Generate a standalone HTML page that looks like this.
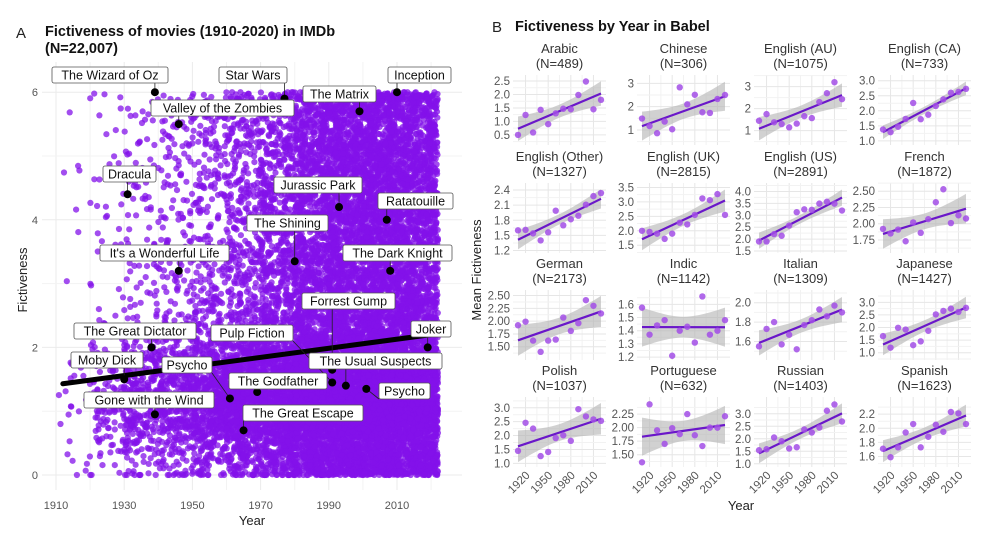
<!DOCTYPE html>
<html><head><meta charset="utf-8">
<style>
html,body{margin:0;padding:0;background:#fff;}
svg{display:block;font-family:"Liberation Sans",Arial,sans-serif;}
</style></head>
<body>
<svg id="fig" width="1000" height="541" viewBox="0 0 1000 541" xmlns="http://www.w3.org/2000/svg">
<rect width="1000" height="541" fill="#fff"/>
<g id="panelA"></g>
<g id="panelB"></g>
</svg>
<script>
// ---------- Panel A data ----------
const decadeStarts = [1910,1920,1930,1940,1950,1960,1970,1980,1990,2000,2010];
const decadeCounts = [30,150,380,520,800,1200,1600,2300,2700,3000,3000];
const uniformShare = [0.45,0.4,0.35,0.4,0.45,0.5,0.6,0.72,0.78,0.78,0.78];
const movieNames = ["The Wizard of Oz","Star Wars","Inception","The Matrix","Valley of the Zombies","Dracula","Jurassic Park","Ratatouille","The Shining","It's a Wonderful Life","The Dark Knight","Forrest Gump","The Great Dictator","Pulp Fiction","Joker","Moby Dick","Psycho","The Usual Suspects","The Godfather","Gone with the Wind","Psycho","The Great Escape"];
const movieYears = [1939,1977,2010,1999,1946,1931,1993,2007,1980,1946,2008,1991,1938,1991,2019,1930,1961,1995,1969,1939,2001,1965];
const movieFict = [6.0,5.9,6.0,5.7,5.5,4.4,4.2,4.0,3.35,3.2,3.2,1.65,2.0,1.45,2.0,1.5,1.2,1.4,1.3,0.95,1.35,0.7];
const trendYears = [1912,2020];
const trendValues = [1.43,2.2];
const xTicksA = [1910,1930,1950,1970,1990,2010];
const yTicksA = [0,2,4,6];

// ---------- Panel B data ----------
const facetNames = ["Arabic","Chinese","English (AU)","English (CA)","English (Other)","English (UK)","English (US)","French","German","Indic","Italian","Japanese","Polish","Portuguese","Russian","Spanish"];
const facetN = [489,306,1075,733,1327,2815,2891,1872,2173,1142,1309,1427,1037,632,1403,1623];
const binYears = [1910,1920,1930,1940,1950,1960,1970,1980,1990,2000,2010,2020];
const vArabic = [0.5,1.24,0.59,1.43,0.9,1.3,1.47,1.45,1.98,2.48,1.45,1.8];
const vChinese = [1.49,1.17,0.86,1.36,1.03,2.83,2.1,2.51,1.76,1.73,2.33,2.5];
const vEnAU = [1.45,1.75,1.38,1.3,1.15,1.32,1.66,1.57,2.3,2.7,3.2,2.43];
const vEnCA = [1.38,1.29,1.47,1.73,2.26,1.72,1.87,2.16,2.38,2.6,2.63,2.73];
const vEnOther = [1.6,1.61,1.54,1.4,1.56,1.99,1.7,1.82,1.89,2.11,2.28,2.34];
const vEnUK = [2.0,1.96,1.9,1.72,1.9,2.28,2.22,2.55,3.12,3.06,3.27,2.55];
const vEnUS = [1.9,1.9,2.21,2.14,2.57,3.13,3.25,3.23,3.49,3.57,3.49,3.2];
const vFrench = [1.92,1.85,1.91,1.73,2.02,1.86,2.07,2.33,2.53,2.01,2.13,2.08];
const vGerman = [1.92,1.99,1.62,1.4,1.62,1.64,2.07,1.81,1.96,2.41,2.3,2.15];
const vIndic = [1.575,1.37,1.44,1.48,1.21,1.4,1.43,1.31,1.66,1.37,1.4,1.48];
const vItalian = [1.55,1.73,1.8,1.57,1.67,1.52,1.77,1.82,1.93,1.86,1.97,1.9];
const vJapanese = [1.66,1.2,1.99,1.92,1.3,1.45,1.87,2.52,2.66,2.75,2.62,2.78];
const vPolish = [1.45,2.46,2.25,1.26,1.41,1.91,2.01,1.81,2.95,2.69,2.58,2.53];
const vPortuguese = [1.36,2.43,1.95,1.7,1.99,1.88,2.25,1.86,1.66,2.0,2.0,2.21];
const vRussian = [1.54,1.58,2.05,1.9,1.61,1.66,2.37,2.25,2.45,3.12,3.37,2.69];
const vSpanish = [1.71,1.59,1.73,1.94,2.06,1.73,1.88,2.05,1.95,2.23,2.21,2.06];
const facetValues = [vArabic,vChinese,vEnAU,vEnCA,vEnOther,vEnUK,vEnUS,vFrench,vGerman,vIndic,vItalian,vJapanese,vPolish,vPortuguese,vRussian,vSpanish];
const facetDomains = [[0.2,2.61],[0.44,3.23],[0.44,3.39],[0.93,3.09],[1.19,2.48],[1.3,3.55],[1.5,4.23],[1.58,2.58],[1.28,2.55],[1.193,1.686],[1.43,2.10],[0.79,3.37],[0.94,3.28],[1.31,2.51],[0.95,3.55],[1.48,2.40]];
const facetTicks = [[0.5,1.0,1.5,2.0,2.5],[1,2,3],[1,2,3],[1.0,1.5,2.0,2.5,3.0],[1.2,1.5,1.8,2.1,2.4],[1.5,2.0,2.5,3.0,3.5],[1.5,2.0,2.5,3.0,3.5,4.0],[1.75,2.00,2.25,2.50],[1.50,1.75,2.00,2.25,2.50],[1.2,1.3,1.4,1.5,1.6],[1.6,1.8,2.0],[1.0,1.5,2.0,2.5,3.0],[1.0,1.5,2.0,2.5,3.0],[1.50,1.75,2.00,2.25],[1.0,1.5,2.0,2.5,3.0],[1.6,1.8,2.0,2.2]];
const facetTickDigits = [1,0,0,1,1,1,1,2,2,1,1,1,1,2,1,1];
const xTicksB = [1920,1950,1980,2010];

const NS = "http://www.w3.org/2000/svg";
function mk(tag, attrs, parent){const e=document.createElementNS(NS,tag);for(const k in attrs)e.setAttribute(k,attrs[k]);parent.appendChild(e);return e;}

// ======== Panel A ========
const A = document.getElementById('panelA');
const axL=42, axR=462, axT=62, axB=490;
const xA = y => 56 + (y-1910)*3.41;
const yA = v => 475 - v*63.8;

let t = mk('text',{x:16,y:38,'font-size':15,fill:'#222'},A); t.textContent='A';
 
t = mk('text',{x:45,y:36,'font-size':14.5,'font-weight':'bold',fill:'#111'},A); t.textContent='Fictiveness of movies (1910-2020) in IMDb';
 
t = mk('text',{x:45,y:53,'font-size':14.5,'font-weight':'bold',fill:'#111'},A); t.textContent='(N=22,007)';
 

const gridA = mk('g',{},A);
 
for(let y=1910;y<=2020;y+=10){ mk('line',{x1:xA(y),x2:xA(y),y1:axT,y2:axB,stroke:(y-1910)%20===0?'#ebebeb':'#f3f3f3','stroke-width':1},gridA); }
for(let v=0;v<=6;v+=1){ mk('line',{x1:axL,x2:axR,y1:yA(v),y2:yA(v),stroke:v%2===0?'#ebebeb':'#f3f3f3','stroke-width':1},gridA); }

// seeded generator for the point cloud texture
let seed = 12345;
function rnd(){seed=(seed*1103515245+12345)%2147483648;return seed/2147483648;}
function gauss(){let u=rnd()||1e-6,v=rnd();return Math.sqrt(-2*Math.log(u))*Math.cos(2*Math.PI*v);}
const cloud = mk('g',{fill:'#8312ea','fill-opacity':0.75},A);
 
let pts='';
decadeStarts.forEach((d,i)=>{
  const span = d===2010?12:10;
  for(let k=0;k<decadeCounts[i];k++){
    const yr = d + rnd()*span;
    let f;
    if(rnd()<uniformShare[i]) f = rnd()*6.02; else f = 1.2 + gauss()*0.55;
    f = Math.max(0,Math.min(6,f));
    pts += `<circle cx="${xA(yr).toFixed(1)}" cy="${yA(f).toFixed(1)}" r="3.1"/>`;
  }
});
cloud.innerHTML = pts;

// trend line
const tl = mk('line',{x1:xA(trendYears[0]),y1:yA(trendValues[0]),x2:xA(trendYears[1]),y2:yA(trendValues[1]),stroke:'#000','stroke-width':5,'stroke-linecap':'round'},A);
 

// label boxes layout (pixel positions: x, y, width)
const labelLayout = [[52,67,116],[219,67,68],[388,67,63],[303,86,73],[151,100,143],[103,166,53],[274,177,88],[378,193,75],[247,215,81],[100,245,129],[343,245,109],[302,293,93],[74,323,122],[211,325,82],[411,321,40],[71,352,72],[162,357,50],[309,353,133],[229,373,98],[84,392,130],[379,383,51],[243,405,120]];
const labG = mk('g',{},A);
 
movieNames.forEach((nm,i)=>{
  const [bx,by,bw]=labelLayout[i];
  const px=xA(movieYears[i]), py=yA(movieFict[i]);
  const cx = Math.max(bx,Math.min(bx+bw,px));
  const cy = py<by? by : by+16;
  mk('line',{x1:cx,y1:cy,x2:px,y2:py,stroke:'#222','stroke-width':0.8},labG);
  const dot = mk('circle',{cx:px,cy:py,r:4,fill:'#000'},labG);
   
});
movieNames.forEach((nm,i)=>{
  const [bx,by,bw]=labelLayout[i];
  const g = mk('g',{},labG);
   
  mk('rect',{x:bx,y:by,width:bw,height:16,rx:2,fill:'#fff',stroke:'#555','stroke-width':0.8},g);
  const tx = mk('text',{x:bx+bw/2,y:by+12.5,'font-size':12.5,'text-anchor':'middle',fill:'#111'},g);
  tx.textContent = nm;
});

const axA = mk('g',{'font-size':11,fill:'#555'},A);
 
xTicksA.forEach(v=>{ const e=mk('text',{x:xA(v),y:509,'text-anchor':'middle'},axA); e.textContent=v;
   });
yTicksA.forEach(v=>{ const e=mk('text',{x:38,y:yA(v)+4,'text-anchor':'end'},axA); e.textContent=v;
   });
t = mk('text',{x:252,y:525,'font-size':13,'text-anchor':'middle',fill:'#222'},A); t.textContent='Year';
 
t = mk('text',{x:0,y:0,'font-size':13,'text-anchor':'middle',fill:'#222',transform:'translate(27,280) rotate(-90)'},A); t.textContent='Fictiveness';
 

// ======== Panel B ========
const B = document.getElementById('panelB');
t = mk('text',{x:492,y:32,'font-size':15,fill:'#222'},B); t.textContent='B';
 
t = mk('text',{x:515,y:31,'font-size':14.5,'font-weight':'bold',fill:'#111'},B); t.textContent='Fictiveness by Year in Babel';
 

const colLeft=[518,642,759,883], colW=83;
const rowTop=[78,186,293,400], rowH=65;
const defs = mk('defs',{},B);
facetNames.forEach((nm,i)=>{
  const c=i%4, r=Math.floor(i/4);
  const L=colLeft[c], T=rowTop[r], W=colW, H=rowH;
  const [d0,d1]=facetDomains[i];
  const xs = yr => L + (yr-1910)/110*W;
  const ys = v => T + H - (v-d0)/(d1-d0)*H;
  const g = mk('g',{},B);
  
  
  const pl=L-5, pr=L+W+5, pt=T-3, pb=T+H+2;
  [1935,1965,1995].forEach(y=>mk('line',{x1:xs(y),x2:xs(y),y1:pt,y2:pb,stroke:'#f2f2f2'},g));
  xTicksB.forEach(y=>mk('line',{x1:xs(y),x2:xs(y),y1:pt,y2:pb,stroke:'#e6e6e6'},g));
  const tk=facetTicks[i], step=tk[1]-tk[0];
  for(let v=tk[0]-step/2; v<=tk[tk.length-1]+step; v+=step){ const yy=ys(v); if(yy>=pt&&yy<=pb) mk('line',{x1:pl,x2:pr,y1:yy,y2:yy,stroke:'#f2f2f2'},g);}
  tk.forEach(v=>{ const yy=ys(v); mk('line',{x1:pl,x2:pr,y1:yy,y2:yy,stroke:'#e6e6e6'},g);
    const e=mk('text',{x:L-8,y:yy+4,'font-size':11.5,'text-anchor':'end',fill:'#555'},g); e.textContent=v.toFixed(facetTickDigits[i]);
     });
  const vals=facetValues[i], n=vals.length;
  const xm=binYears.reduce((a,b)=>a+b,0)/n, ym=vals.reduce((a,b)=>a+b,0)/n;
  let sxx=0,sxy=0; binYears.forEach((x,k)=>{sxx+=(x-xm)**2; sxy+=(x-xm)*(vals[k]-ym);});
  const b=sxy/sxx, a=ym-b*xm;
  let sse=0; binYears.forEach((x,k)=>{sse+=(vals[k]-a-b*x)**2;});
  const s=Math.sqrt(sse/(n-2));
  const cid='clip'+i;
  const cp=mk('clipPath',{id:cid},defs); mk('rect',{x:pl,y:pt,width:pr-pl,height:pb-pt},cp);
  const up=[],lo=[];
  for(let x=1910;x<=2020;x+=5){ const f=a+b*x, se=s*Math.sqrt(1/n+(x-xm)**2/sxx)*2.228;
    up.push(xs(x).toFixed(1)+','+ys(f+se).toFixed(1)); lo.unshift(xs(x).toFixed(1)+','+ys(f-se).toFixed(1)); }
  const rib=mk('polygon',{points:up.concat(lo).join(' '),fill:'#b3b3b3','fill-opacity':0.6,'clip-path':`url(#${cid})`},g);
   
  const ln=mk('line',{x1:xs(1910),y1:ys(a+b*1910),x2:xs(2020),y2:ys(a+b*2020),stroke:'#6a17c9','stroke-width':2.2,'clip-path':`url(#${cid})`},g);
   
  vals.forEach((v,k)=>{ const p=mk('circle',{cx:xs(binYears[k]),cy:ys(v),r:3.2,fill:'#a24ee6','fill-opacity':0.85},g);
     });
  const t1=mk('text',{x:L+W/2,y:T-25,'font-size':13,'text-anchor':'middle',fill:'#333'},g); t1.textContent=nm;
   
  const t2=mk('text',{x:L+W/2,y:T-10,'font-size':13,'text-anchor':'middle',fill:'#333'},g); t2.textContent='(N='+facetN[i]+')';
   
  if(r===3){ xTicksB.forEach(y=>{ const e=mk('text',{x:0,y:0,'font-size':11.5,'text-anchor':'end',fill:'#555',transform:`translate(${xs(y)+5},${pb+9}) rotate(-45)`},g); e.textContent=y;
     }); }
});
t = mk('text',{x:741,y:510,'font-size':13,'text-anchor':'middle',fill:'#222'},B); t.textContent='Year';
 
t = mk('text',{x:0,y:0,'font-size':13,'text-anchor':'middle',fill:'#222',transform:'translate(481,270) rotate(-90)'},B); t.textContent='Mean Fictiveness';
 
</script>
</body></html>
